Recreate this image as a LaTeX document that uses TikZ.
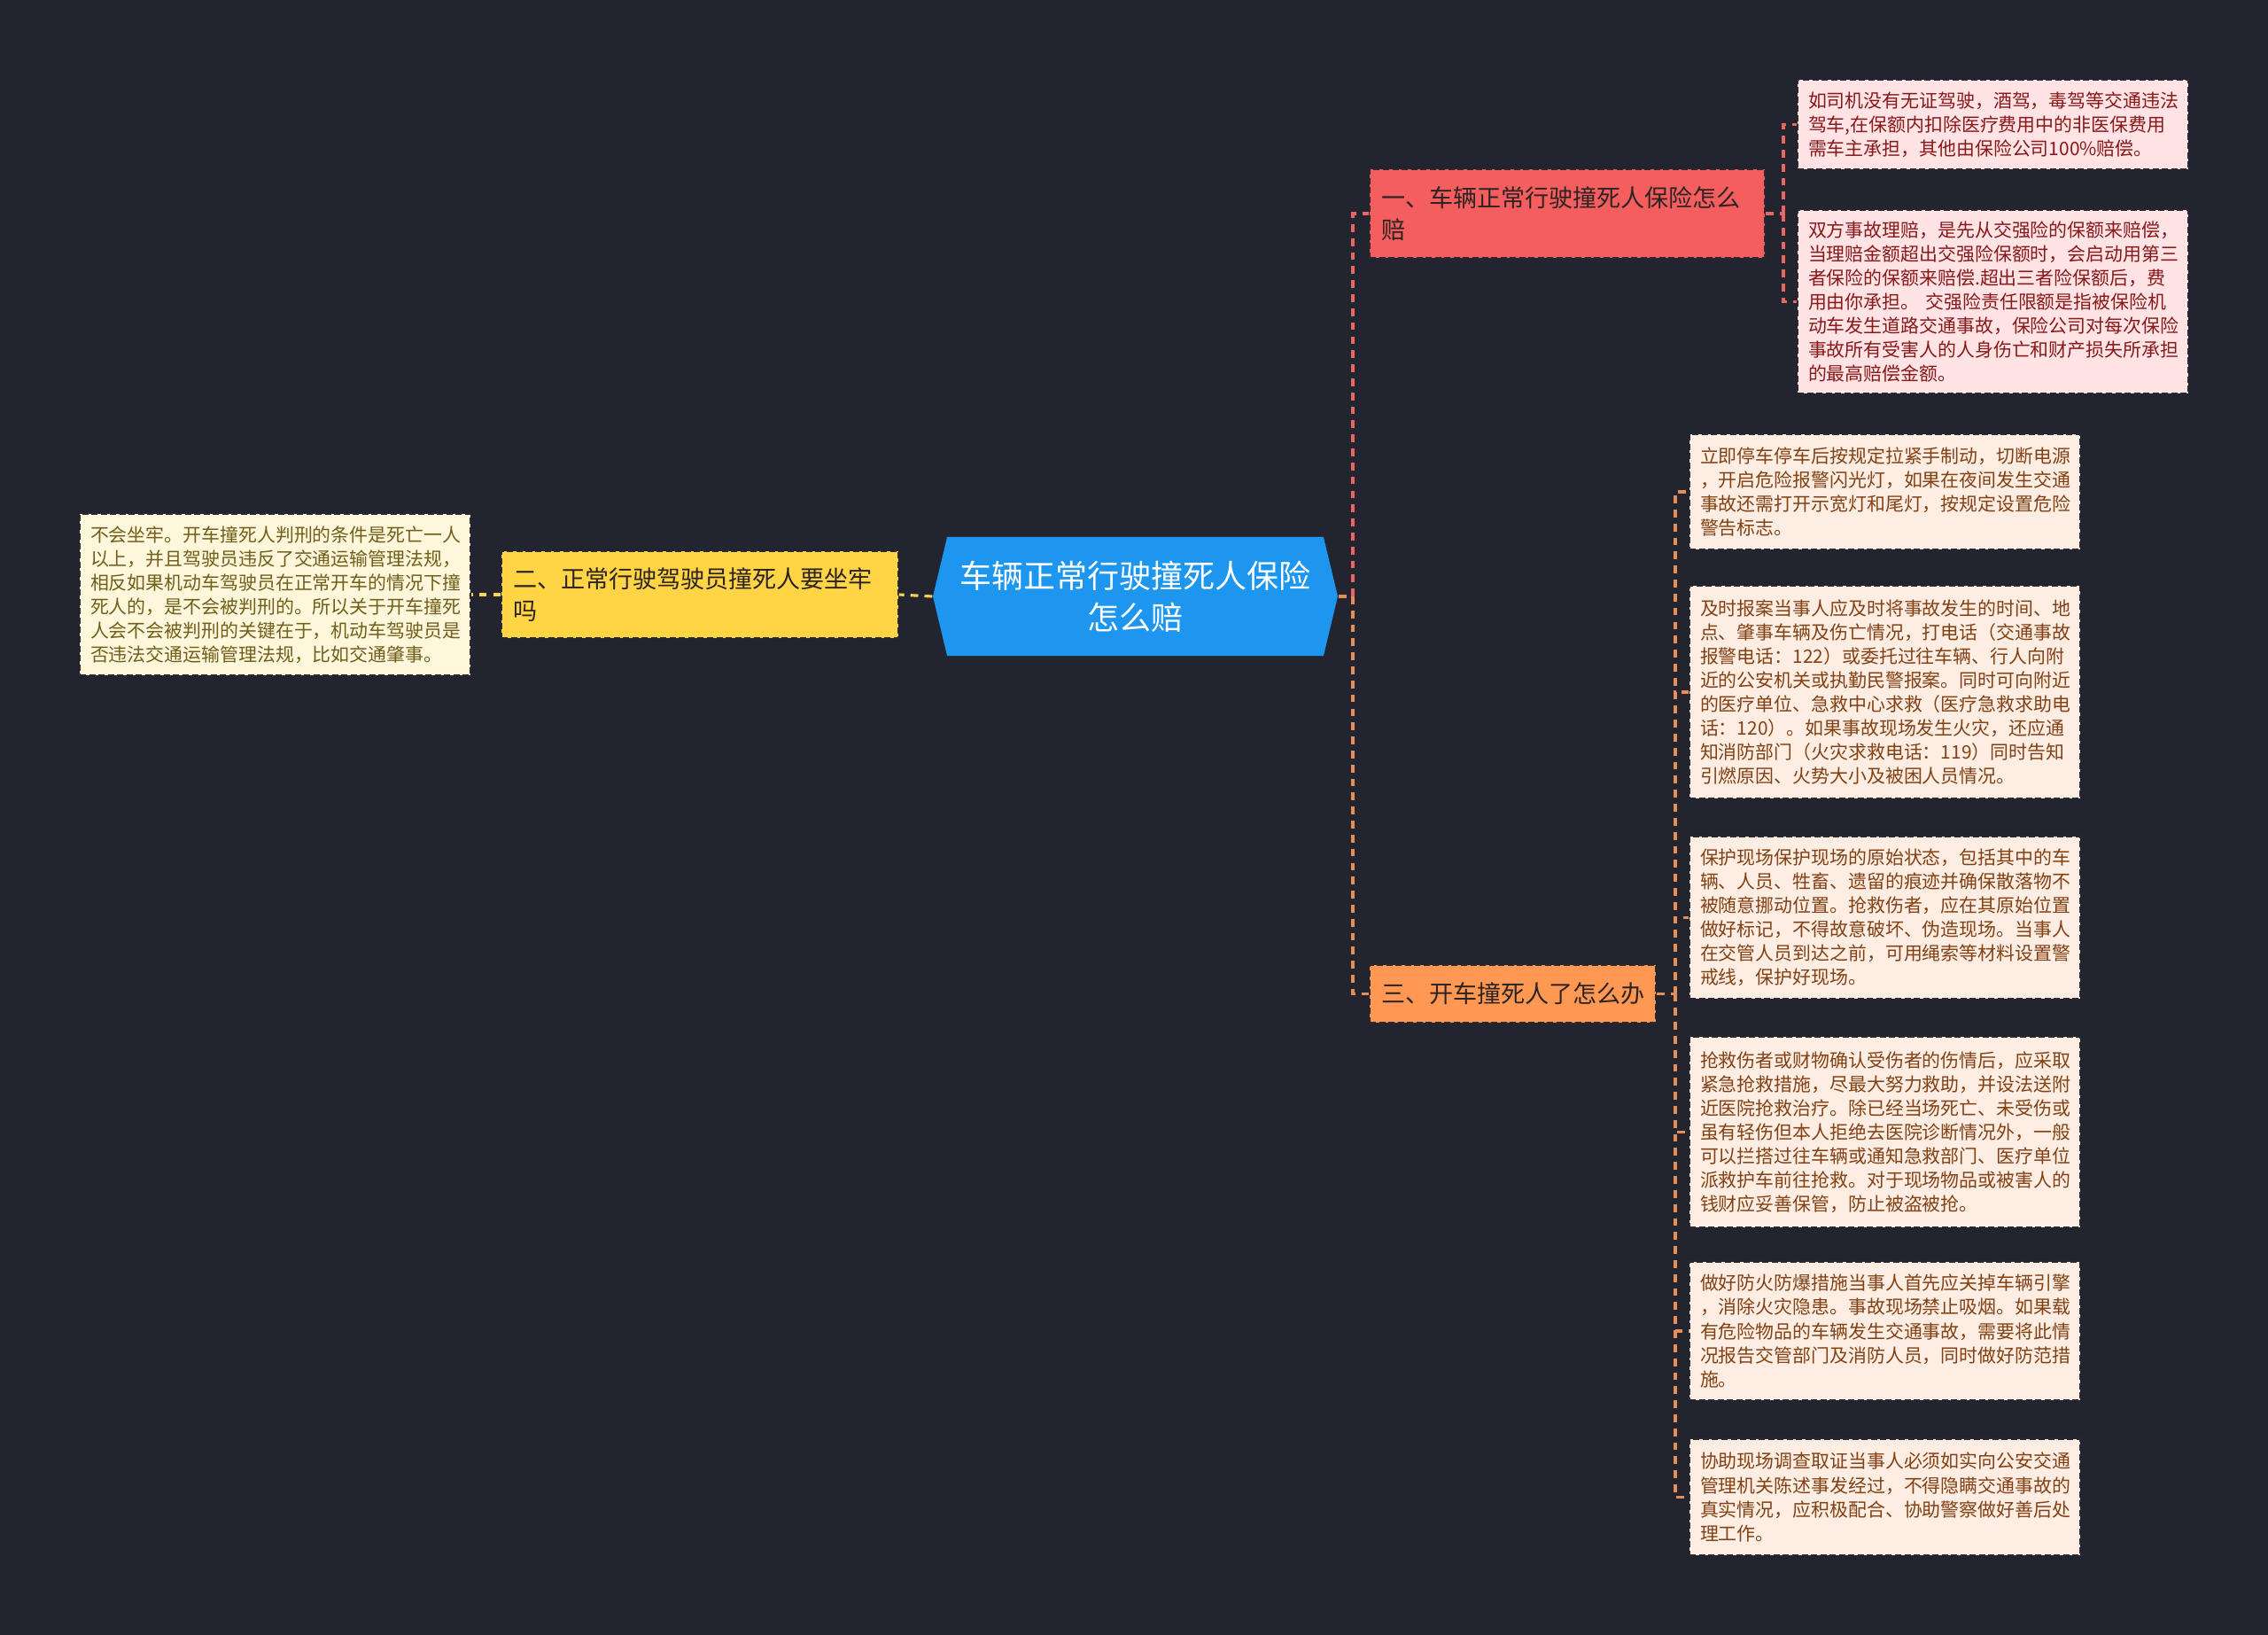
\documentclass[tikz,border=0pt]{standalone}
\usepackage{fontspec}
\setmainfont{Noto Sans CJK SC}
\usetikzlibrary{shapes.symbols}
\definecolor{bgdark}{RGB}{34,37,48}
\definecolor{rootblue}{RGB}{28,150,238}
\definecolor{redfill}{RGB}{244,94,94}
\definecolor{yellowfill}{RGB}{255,213,70}
\definecolor{orangefill}{RGB}{255,152,82}
\definecolor{pinkfill}{RGB}{255,227,229}
\definecolor{peachfill}{RGB}{253,237,226}
\definecolor{creamfill}{RGB}{254,247,220}
\definecolor{pinktext}{RGB}{135,25,25}
\definecolor{browntext}{RGB}{130,65,20}
\definecolor{olivetext}{RGB}{112,94,25}
\definecolor{branchtext}{RGB}{45,35,35}
\definecolor{boxline}{RGB}{40,40,45}
\definecolor{linkred}{RGB}{236,100,100}
\definecolor{linkorange}{RGB}{232,142,84}
\definecolor{linkyellow}{RGB}{250,210,80}

\begin{document}
\begin{tikzpicture}[every node/.style={font=\fontsize{5.95}{7.7}\selectfont},
	box/.style={rectangle, draw=boxline, dash pattern=on 2pt off 1pt, line width=0.4pt, inner xsep=0.12cm, inner ysep=0pt, align=left},
	leafpink/.style={box, fill=pinkfill, text=pinktext, text width=4.17cm},
	leafpeach/.style={box, fill=peachfill, text=browntext, text width=4.17cm},
	leafcream/.style={box, fill=creamfill, text=olivetext, text width=4.17cm},
	branch/.style={box, inner xsep=0.13cm, text=branchtext, font=\fontsize{7.7}{10.2}\selectfont},
	link/.style={line width=0.9pt, dash pattern=on 2.5pt off 2pt}]
	\fill[bgdark] (0,0) rectangle (25.6,-18.45);
	% centre
	\node[signal, signal to=west and east, signal pointer angle=153, fill=rootblue, text=white, align=center, inner sep=0pt,
		minimum width=4.57cm, minimum height=1.34cm, font=\fontsize{10.25}{13.4}\selectfont] (root) at (12.815,-6.73) {车辆正常行驶撞死人保险\\怎么赔};
	% one
	\node[branch, fill=redfill, text width=4.2cm, minimum height=1.0cm] (b1) at (17.69,-2.41) {一、车辆正常行驶撞死人保险怎么\\赔};
	\node[leafpink, minimum height=1.01cm] (l1) at (22.495,-1.405) {如司机没有无证驾驶，酒驾，毒驾等交通违法\\驾车,在保额内扣除医疗费用中的非医保费用\\需车主承担，其他由保险公司100\%赔偿。};
	\node[leafpink, minimum height=2.07cm] (l2) at (22.495,-3.405) {双方事故理赔，是先从交强险的保额来赔偿，\\当理赔金额超出交强险保额时，会启动用第三\\者保险的保额来赔偿.超出三者险保额后，费\\用由你承担。~交强险责任限额是指被保险机\\动车发生道路交通事故，保险公司对每次保险\\事故所有受害人的人身伤亡和财产损失所承担\\的最高赔偿金额。};
	% two
	\node[branch, fill=yellowfill, text width=4.22cm, minimum height=0.98cm] (b2) at (7.90,-6.71) {二、正常行驶驾驶员撞死人要坐牢\\吗};
	\node[leafcream, minimum height=1.82cm] (k1) at (3.105,-6.71) {不会坐牢。开车撞死人判刑的条件是死亡一人\\以上，并且驾驶员违反了交通运输管理法规，\\相反如果机动车驾驶员在正常开车的情况下撞\\死人的，是不会被判刑的。所以关于开车撞死\\人会不会被判刑的关键在于，机动车驾驶员是\\否违法交通运输管理法规，比如交通肇事。};
	% three
	\node[branch, fill=orangefill, text width=2.97cm, minimum height=0.65cm] (b3) at (17.075,-11.215) {三、开车撞死人了怎么办};
	\node[leafpeach, minimum height=1.30cm] (c1) at (21.275,-5.55) {立即停车停车后按规定拉紧手制动，切断电源\\，开启危险报警闪光灯，如果在夜间发生交通\\事故还需打开示宽灯和尾灯，按规定设置危险\\警告标志。};
	\node[leafpeach, minimum height=2.40cm] (c2) at (21.275,-7.81) {及时报案当事人应及时将事故发生的时间、地\\点、肇事车辆及伤亡情况，打电话（交通事故\\报警电话：122）或委托过往车辆、行人向附\\近的公安机关或执勤民警报案。同时可向附近\\的医疗单位、急救中心求救（医疗急救求助电\\话：120）。如果事故现场发生火灾，还应通\\知消防部门（火灾求救电话：119）同时告知\\引燃原因、火势大小及被困人员情况。};
	\node[leafpeach, minimum height=1.83cm] (c3) at (21.275,-10.355) {保护现场保护现场的原始状态，包括其中的车\\辆、人员、牲畜、遗留的痕迹并确保散落物不\\被随意挪动位置。抢救伤者，应在其原始位置\\做好标记，不得故意破坏、伪造现场。当事人\\在交管人员到达之前，可用绳索等材料设置警\\戒线，保护好现场。};
	\node[leafpeach, minimum height=2.15cm] (c4) at (21.275,-12.775) {抢救伤者或财物确认受伤者的伤情后，应采取\\紧急抢救措施，尽最大努力救助，并设法送附\\近医院抢救治疗。除已经当场死亡、未受伤或\\虽有轻伤但本人拒绝去医院诊断情况外，一般\\可以拦搭过往车辆或通知急救部门、医疗单位\\派救护车前往抢救。对于现场物品或被害人的\\钱财应妥善保管，防止被盗被抢。};
	\node[leafpeach, minimum height=1.56cm] (c5) at (21.275,-15.02) {做好防火防爆措施当事人首先应关掉车辆引擎\\，消除火灾隐患。事故现场禁止吸烟。如果载\\有危险物品的车辆发生交通事故，需要将此情\\况报告交管部门及消防人员，同时做好防范措\\施。};
	\node[leafpeach, minimum height=1.31cm] (c6) at (21.275,-16.895) {协助现场调查取证当事人必须如实向公安交通\\管理机关陈述事发经过，不得隐瞒交通事故的\\真实情况，应积极配合、协助警察做好善后处\\理工作。};
	% links
	\coordinate (t0) at (15.27,-6.73);
	\coordinate (t1) at (20.13,-2.41);
	\coordinate (t3) at (18.91,-11.215);
	\draw[link, linkorange] (root.east) -- (t0);
	\draw[link, linkred] (t0) |- (b1.west);
	\draw[link, linkorange] (t0) |- (b3.west);
	\draw[link, linkred] (b1.east) -- (t1);
	\foreach \n in {l1,l2} {\draw[link, linkred] (t1) |- (\n.west);}
	\draw[link, linkorange] (b3.east) -- (t3);
	\foreach \n in {c1,c2,c3,c4,c5,c6} {\draw[link, linkorange] (t3) |- (\n.west);}
	\draw[link, linkyellow] (root.west) -- (b2.east);
	\draw[link, linkyellow] (b2.west) -- (k1.east);
\end{tikzpicture}
\end{document}
